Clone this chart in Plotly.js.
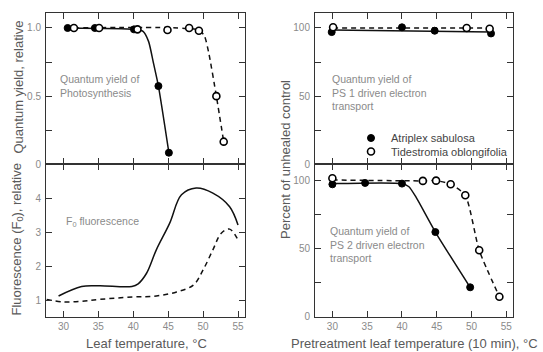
<!DOCTYPE html>
<html>
<head>
<meta charset="utf-8">
<script src="https://cdn.plot.ly/plotly-3.0.1.min.js"></script>
<style>html,body{margin:0;padding:0;background:#fff;}#chart{width:543px;height:352px;}</style>
</head>
<body>
<div id="chart"></div>
<script>
// ---- Data ----
// Panel A: quantum yield of photosynthesis (relative)
const photoAtriplexX = [30.6, 34.5, 40.1, 43.6, 45.1];
const photoAtriplexY = [1.0, 1.0, 0.99, 0.574, 0.085];
const photoTidesX = [31.5, 35.1, 40.6, 44.9, 48.0, 49.4, 51.9, 52.95];
const photoTidesY = [1.0, 1.0, 0.99, 0.985, 1.0, 0.98, 0.5, 0.166];
const photoAtriplexFitX = [30.6, 40.1, 41.4, 42.2, 42.9, 43.6, 45.1];
const photoAtriplexFitY = [1.0, 0.99, 0.975, 0.9, 0.74, 0.574, 0.085];
const photoTidesFitX = [31.5, 49.4, 50.2, 50.8, 51.9, 52.95];
const photoTidesFitY = [1.0, 0.985, 0.94, 0.82, 0.5, 0.166];

// Panel B: F0 fluorescence (relative)
const fluorAtriplexX = [29.3, 32.6, 35.2, 39.8, 40.7, 41.9, 43.3, 45.2, 46.9, 49.0, 51.4, 53.8, 55.0];
const fluorAtriplexY = [1.12, 1.40, 1.42, 1.40, 1.48, 1.79, 2.48, 3.26, 4.10, 4.30, 4.15, 3.75, 3.21];
const fluorTidesX = [27.6, 29.8, 32.4, 35.2, 40.0, 43.3, 46.2, 48.6, 50.0, 51.4, 52.6, 53.8, 55.0];
const fluorTidesY = [1.02, 0.95, 0.96, 1.02, 1.09, 1.12, 1.24, 1.44, 1.89, 2.48, 2.97, 3.09, 2.77];

// Panel C: PS 1 driven electron transport (% of unheated control)
const ps1AtriplexX = [29.9, 40.0, 44.7, 52.8];
const ps1AtriplexY = [97, 100.5, 98, 96];
const ps1TidesX = [30.1, 49.3, 52.6];
const ps1TidesY = [100.5, 100, 99.5];
const ps1AtriplexFitX = [30.0, 52.8];
const ps1AtriplexFitY = [98.5, 97.0];
const ps1TidesFitX = [30.1, 52.6];
const ps1TidesFitY = [100, 100];

// Panel D: PS 2 driven electron transport (% of unheated control)
const ps2AtriplexX = [30.0, 34.7, 40.0, 44.8, 49.8];
const ps2AtriplexY = [97.3, 98.3, 97.8, 62.2, 21.6];
const ps2TidesX = [30.0, 43.0, 44.9, 47.0, 49.1, 51.1, 54.0];
const ps2TidesY = [101.7, 99.8, 100, 97.3, 89.2, 48.8, 14.7];
const ps2AtriplexFitX = [30.0, 40.0, 41.0, 42.0, 44.8, 49.8];
const ps2AtriplexFitY = [97.8, 97.8, 95.5, 88.0, 62.2, 21.6];
const ps2TidesFitX = [30.0, 43.0, 44.9, 47.0, 49.1, 51.1, 54.0];
const ps2TidesFitY = [100.5, 99.8, 100, 97.3, 89.2, 48.8, 14.7];

const seriesNames = ["Atriplex sabulosa", "Tidestromia oblongifolia"];
const xTicks = [30, 35, 40, 45, 50, 55];
const yTicksPhoto = [0, 0.5, 1.0];
const yTickTextPhoto = ["0", "0.5", "1.0"];
const yMinorPhoto = [0.25, 0.75];
const yTicksFluor = [1, 2, 3, 4];
const yTickTextFluor = ["1", "2", "3", "4"];
const yTicksPct = [0, 50, 100];
const yTickTextPct = ["0", "50", "100"];
const yMinorPct = [25, 75];

// ---- Styling ----
const W = 543, H = 352;
const px = v => v / W;
const py = v => 1 - v / H;
const FONT = "Liberation Sans, Arial, sans-serif";
const axisCol = "#333";
const tickFont = {family: FONT, size: 10, color: "#8a8a8a"};
const noteFont = {family: FONT, size: 10.5, color: "#8a8a8a"};
const titleFont = {family: FONT, size: 13, color: "#5a5a5a"};

const filledMarker = {symbol: "circle", size: 7, color: "#000", line: {color: "#000", width: 1}};
const openMarker = {symbol: "circle", size: 7, color: "#fff", line: {color: "#000", width: 1.6}};
const solidLine = {color: "#111", width: 1.5, shape: "spline", smoothing: 0.6};
const dashLine = {color: "#111", width: 1.5, dash: "5px,4px", shape: "spline", smoothing: 0.6};

function lineTrace(x, y, line, xa, ya) {
  return {x, y, mode: "lines", line, xaxis: xa, yaxis: ya, showlegend: false, hoverinfo: "skip"};
}
function markTrace(x, y, marker, xa, ya, name, legend) {
  const t = {x, y, mode: "markers", marker, xaxis: xa, yaxis: ya, name, showlegend: !!legend, cliponaxis: false};
  if (legend) t.legend = legend;
  return t;
}

const traces = [
  // A
  lineTrace(photoAtriplexFitX, photoAtriplexFitY, solidLine, "x", "y"),
  lineTrace(photoTidesFitX, photoTidesFitY, dashLine, "x", "y"),
  markTrace(photoAtriplexX, photoAtriplexY, filledMarker, "x", "y", seriesNames[0]),
  markTrace(photoTidesX, photoTidesY, openMarker, "x", "y", seriesNames[1]),
  // B
  lineTrace(fluorAtriplexX, fluorAtriplexY, Object.assign({}, solidLine, {smoothing: 1}), "x2", "y2"),
  lineTrace(fluorTidesX, fluorTidesY, Object.assign({}, dashLine, {smoothing: 1}), "x2", "y2"),
  // C
  lineTrace(ps1AtriplexFitX, ps1AtriplexFitY, solidLine, "x3", "y3"),
  lineTrace(ps1TidesFitX, ps1TidesFitY, dashLine, "x3", "y3"),
  markTrace(ps1AtriplexX, ps1AtriplexY, filledMarker, "x3", "y3", seriesNames[0], "legend"),
  markTrace(ps1TidesX, ps1TidesY, openMarker, "x3", "y3", seriesNames[1], "legend2"),
  // D
  lineTrace(ps2AtriplexFitX, ps2AtriplexFitY, solidLine, "x4", "y4"),
  lineTrace(ps2TidesFitX, ps2TidesFitY, dashLine, "x4", "y4"),
  markTrace(ps2AtriplexX, ps2AtriplexY, filledMarker, "x4", "y4", seriesNames[0]),
  markTrace(ps2TidesX, ps2TidesY, openMarker, "x4", "y4", seriesNames[1])
];

const leftDom = [px(46), px(245)];
const rightDom = [px(315), px(513.3)];
const topDom = [py(164.3), py(13)];
const botDom = [py(316.7), py(164.3)];

function xAxis(domain, anchor, showLabels) {
  return {
    domain, anchor, range: [27.5, 56], tickvals: xTicks, ticks: "inside", ticklen: 6,
    tickcolor: axisCol, tickwidth: 1, showline: true, linecolor: axisCol, linewidth: 1,
    mirror: "ticks", showgrid: false, zeroline: false, showticklabels: showLabels,
    tickfont: tickFont, automargin: false, fixedrange: true
  };
}
function yAxis(domain, anchor, range, vals, text, minorVals) {
  const a = {
    domain, anchor, range, tickvals: vals, ticktext: text, ticks: "inside", ticklen: 6,
    tickcolor: axisCol, tickwidth: 1, showline: true, linecolor: axisCol, linewidth: 1,
    mirror: "ticks", showgrid: false, zeroline: false, tickfont: tickFont,
    automargin: false, fixedrange: true, ticklabelstandoff: 2
  };
  if (minorVals) a.minor = {tickvals: minorVals, ticks: "inside", ticklen: 6, tickcolor: axisCol, tickwidth: 1, showgrid: false};
  return a;
}

const annotations = [
  {text: "Quantum yield of<br>Photosynthesis", x: px(58), y: py(86), xanchor: "left", yanchor: "middle", align: "left"},
  {text: "F<sub>0</sub> fluorescence", x: px(64), y: py(222), xanchor: "left", yanchor: "middle", align: "left"},
  {text: "Quantum yield of<br>PS 1 driven electron<br>transport", x: px(330), y: py(92.5), xanchor: "left", yanchor: "middle", align: "left"},
  {text: "Quantum yield of<br>PS 2 driven electron<br>transport", x: px(328), y: py(244.5), xanchor: "left", yanchor: "middle", align: "left"}
].map(a => Object.assign(a, {xref: "paper", yref: "paper", showarrow: false, font: noteFont}));

const titles = [
  {text: "Quantum yield, relative", x: px(17.5), y: py(87), textangle: -90},
  {text: "Fluorescence (F<sub>0</sub>), relative", x: px(17.5), y: py(240), textangle: -90},
  {text: "Percent of unhealed control", x: px(285), y: py(160), textangle: -90},
  {text: "Leaf temperature, °C", x: px(146), y: py(343), textangle: 0},
  {text: "Pretreatment leaf temperature (10 min), °C", x: px(414), y: py(343), textangle: 0}
].map(a => Object.assign(a, {xref: "paper", yref: "paper", showarrow: false, xanchor: "center", yanchor: "middle", font: titleFont}));

const legendBase = {
  xanchor: "left", yanchor: "top", bgcolor: "rgba(0,0,0,0)", borderwidth: 0,
  font: {family: FONT, size: 11, color: "#444"}, itemwidth: 30, tracegroupgap: 0
};

const layout = {
  width: W, height: H,
  margin: {l: 0, r: 0, t: 0, b: 0, autoexpand: false},
  paper_bgcolor: "#fff", plot_bgcolor: "#fff",
  font: {family: FONT},
  xaxis: xAxis(leftDom, "y", false),
  yaxis: yAxis(topDom, "x", [0, 1.11], yTicksPhoto, yTickTextPhoto, yMinorPhoto),
  xaxis2: xAxis(leftDom, "y2", true),
  yaxis2: yAxis(botDom, "x2", [0.51, 5.0], yTicksFluor, yTickTextFluor),
  xaxis3: xAxis(rightDom, "y3", false),
  yaxis3: yAxis(topDom, "x3", [0, 111], yTicksPct, yTickTextPct, yMinorPct),
  xaxis4: xAxis(rightDom, "y4", true),
  yaxis4: yAxis(botDom, "x4", [0, 112], yTicksPct, yTickTextPct, yMinorPct),
  showlegend: true,
  legend: Object.assign({x: px(351), y: py(123.5)}, legendBase),
  legend2: Object.assign({x: px(351), y: py(137)}, legendBase),
  annotations: annotations.concat(titles)
};

Plotly.newPlot("chart", traces, layout, {staticPlot: true, displayModeBar: false});
</script>
</body>
</html>
